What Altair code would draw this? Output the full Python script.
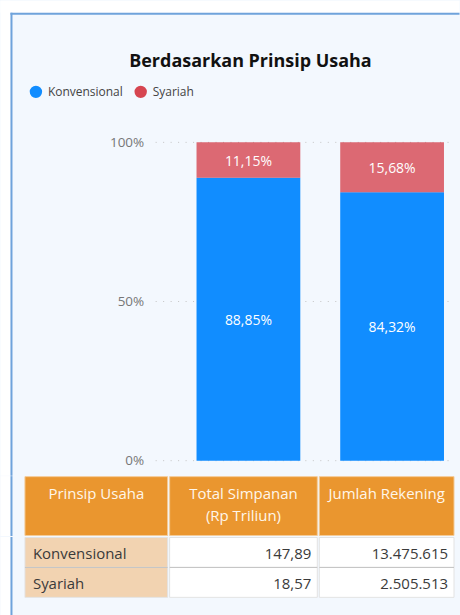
import altair as alt
import pandas as pd

# ---------------- data ----------------
categories = ["Total Simpanan", "Jumlah Rekening"]
principles = ["Konvensional", "Syariah"]
konvensional_pct = [88.85, 84.32]
syariah_pct = [11.15, 15.68]
y_ticks = [0, 50, 100]

table_header = ["Prinsip Usaha", "Total Simpanan\n(Rp Triliun)", "Jumlah Rekening"]
total_simpanan = [147.89, 18.57]
jumlah_rekening = [13475615, 2505513]

FONT = "Open Sans"
BLUE = "#118DFF"
RED = "#D64550"
ORANGE = "#EA962F"
BG = "#F3F8FE"
FRAME = "#6FA3DB"
WHITE = "#FFFFFF"


def id_num(v, dec):
    s = f"{v:,.{dec}f}"
    return s.replace(",", "X").replace(".", ",").replace("X", ".")


bar_df = pd.DataFrame({
    "kategori": categories + categories,
    "prinsip": [principles[0]] * len(categories) + [principles[1]] * len(categories),
    "persen": konvensional_pct + syariah_pct,
})
bar_df["urutan"] = bar_df["prinsip"].map({p: i for i, p in enumerate(principles)})
grid_df = pd.DataFrame({"persen": y_ticks})
one_row = pd.DataFrame({"d": [0]})


def deco(x, x2, y, y2, color):
    """Plain background decoration (panel frame), positioned in pixels."""
    return alt.Chart(one_row).mark_rect(color=color).encode(
        x=alt.value(x), x2=alt.value(x2), y=alt.value(y), y2=alt.value(y2))


# ---------------- bar chart ----------------
PLOT_W, PLOT_H = 429, 319
AXIS_X = 131          # value axis position inside the plot area
OX, OY = 24.5, 142    # plot origin on the page
PAGE_W = 460
TABLE_TOP = 476

x_enc = alt.X(
    "kategori:N", sort=categories, axis=None,
    scale=alt.Scale(domain=categories, paddingInner=0.2778, paddingOuter=0.6285, align=0.95),
)
y_axis = alt.Axis(
    values=y_ticks, labelExpr="datum.value + '%'", title=None, domain=False,
    ticks=False, labelPadding=12, labelFontSize=13.5, labelColor="#777777",
    grid=False, offset=-AXIS_X,
)
y_scale = alt.Scale(domain=[0, 100], nice=False)

grid = alt.Chart(grid_df).mark_rule(color="#C4C4C4", strokeDash=[1, 6.5], strokeWidth=1).encode(
    y=alt.Y("persen:Q", scale=y_scale, axis=y_axis),
    x=alt.value(AXIS_X),
    x2=alt.value(PLOT_W),
)

base = alt.Chart(bar_df)
bars = base.mark_bar().encode(
    x=x_enc,
    y=alt.Y("persen:Q", stack="zero", scale=y_scale, axis=y_axis),
    color=alt.Color(
        "prinsip:N",
        scale=alt.Scale(domain=principles, range=[BLUE, RED]),
        legend=alt.Legend(
            orient="none", legendX=0, legendY=-62, direction="horizontal", title=None,
            symbolType="circle", symbolSize=154, symbolOpacity=1, labelFontSize=12,
            labelColor="#444444", labelOffset=5, columnPadding=10, padding=4,
        ),
    ),
    opacity=alt.condition(alt.datum.prinsip == principles[1], alt.value(0.8), alt.value(1)),
    order=alt.Order("urutan:Q"),
)

labels = base.transform_stack(
    stack="persen", as_=["y0", "y1"], groupby=["kategori"],
    sort=[alt.SortField("urutan", order="ascending")],
).transform_calculate(
    mid="(datum.y0 + datum.y1) / 2",
    label="replace(format(datum.persen, '.2f'), '.', ',') + '%'",
).mark_text(color="#FFFFFF", fontSize=14, baseline="middle", dy=2).encode(
    x=x_enc,
    y=alt.Y("mid:Q", scale=y_scale, axis=y_axis),
    text="label:N",
)

frame_top = TABLE_TOP - OY
bar_chart = alt.layer(
    deco(-OX, PAGE_W - OX, -OY, 12 - OY, WHITE),
    deco(-OX, 10 - OX, -OY, frame_top, WHITE),
    deco(10 - OX, PAGE_W - OX, 12 - OY, 14 - OY, FRAME),
    deco(10 - OX, 12 - OX, 12 - OY, frame_top, FRAME),
    grid, bars, labels,
).properties(
    width=PLOT_W, height=PLOT_H,
    title=alt.TitleParams(
        "Berdasarkan Prinsip Usaha", fontSize=18, fontWeight="bold", color="#111111",
        anchor="middle", frame="group", dx=11.5, offset=-70,
    ),
)

# ---------------- table ----------------
rows = []
for r, name in enumerate(principles):
    rows.append({"baris": name, "kolom": table_header[0], "teks": name})
    rows.append({"baris": name, "kolom": table_header[1], "teks": id_num(total_simpanan[r], 2)})
    rows.append({"baris": name, "kolom": table_header[2], "teks": id_num(jumlah_rekening[r], 0)})
table_df = pd.DataFrame(rows)

col_widths = [143, 148, 135]
col_fills = ["#F2D3B1", "#FFFFFF", "#FFFFFF"]
HEAD_H, BODY_H = 59, 60
TX = 24.5  # table left on the page


def table_column(idx):
    name = table_header[idx]
    w = col_widths[idx]
    xs = alt.Scale(paddingInner=0, paddingOuter=0)
    hdr = alt.Chart(pd.DataFrame({"kolom": [name]}))
    h_rect = hdr.mark_rect(fill=ORANGE, stroke="#F4CB98", strokeWidth=1).encode(
        x=alt.X("kolom:N", axis=None, scale=xs))
    h_text = hdr.mark_text(baseline="top", dy=-19, fontSize=15, color="#FFF6EA",
                           lineBreak="\n", lineHeight=21.5).encode(
        x=alt.X("kolom:N", axis=None, scale=xs), text="kolom:N")
    h_layers = [h_rect, h_text]

    body = alt.Chart(table_df[table_df["kolom"] == name])
    ys = alt.Scale(paddingInner=0, paddingOuter=0)
    b_rect = body.mark_rect(fill=col_fills[idx], stroke="#E3E3E3", strokeWidth=1).encode(
        x=alt.X("kolom:N", axis=None, scale=xs),
        y=alt.Y("baris:N", sort=principles, axis=None, scale=ys))
    b_rule = body.transform_filter(alt.datum.baris == principles[0]).mark_rule(
        color="#C4C4C4", strokeWidth=1).encode(
        y=alt.Y("baris:N", sort=principles, axis=None, scale=ys, bandPosition=1))
    if idx == 0:
        txt = body.mark_text(align="left", dx=8, dy=2, baseline="middle", fontSize=15, color="#3A3A3A")
        bp = 0
    else:
        txt = body.mark_text(align="right", dx=-6, dy=2, baseline="middle", fontSize=15, color="#3A3A3A")
        bp = 1
    b_text = txt.encode(
        x=alt.X("kolom:N", axis=None, scale=xs, bandPosition=bp),
        y=alt.Y("baris:N", sort=principles, axis=None, scale=ys),
        text="teks:N")
    b_layers = [b_rect, b_rule, b_text]

    if idx == 0:
        # continue the panel frame down the left side
        body_top = TABLE_TOP + HEAD_H + 1.5
        h_layers = [deco(-TX, 10 - TX, -0.5, HEAD_H + 0.5, WHITE),
                    deco(10 - TX, 12 - TX, -0.5, HEAD_H + 0.5, FRAME)] + h_layers
        b_layers = [deco(-TX, 10 - TX, -0.5, 615 - body_top, WHITE),
                    deco(10 - TX, 12 - TX, -0.5, 615 - body_top, FRAME)] + b_layers

    header = alt.layer(*h_layers).properties(width=w, height=HEAD_H)
    body_l = alt.layer(*b_layers).properties(width=w, height=BODY_H)
    return alt.vconcat(header, body_l, spacing=0)


table = alt.hconcat(*[table_column(i) for i in range(3)], spacing=0)

chart = alt.vconcat(bar_chart, table, spacing=0).properties(
    padding=0,
    background=BG,
).configure(font=FONT).configure_view(stroke=None)

chart.save("out.html", embed_options={"renderer": "svg", "actions": False})
